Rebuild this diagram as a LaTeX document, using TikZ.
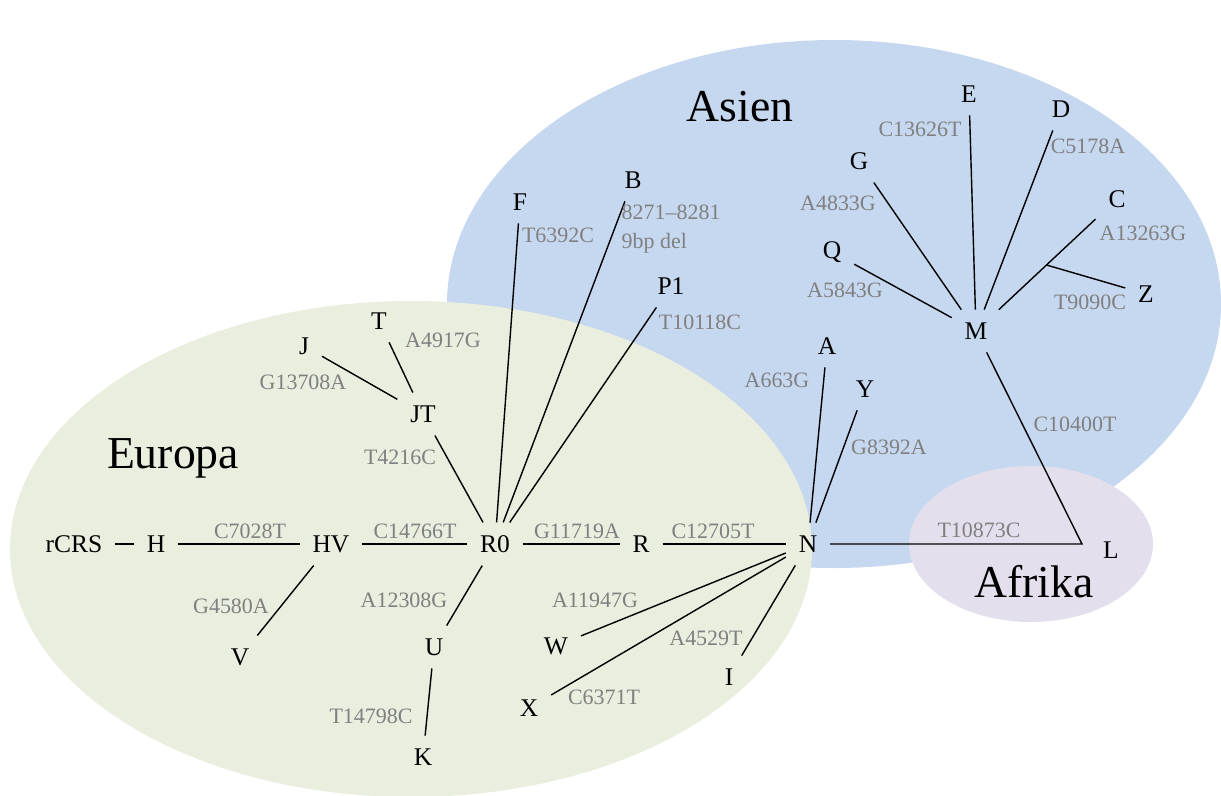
\documentclass[tikz,border=0pt]{standalone}
\usepackage{fontspec}
\setmainfont{Liberation Serif}
\usetikzlibrary{calc}
\definecolor{blueish}{RGB}{198, 216, 240}
\definecolor{greenish}{RGB}{233, 238, 222}
\definecolor{purplish}{RGB}{228, 223, 237}
\definecolor{greyish}{RGB}{128, 128, 128}
\tikzset{
  hg_n/.style = {inner sep=7pt, font=\fontsize{14.5}{17}\selectfont},% haplogroup node
  mut_l/.style = {inner sep=0pt, text=greyish, font=\fontsize{12.5}{16}\selectfont},% mutation label
  cont_t/.style = {anchor=base, font=\fontsize{26}{30}\selectfont},% continent title
}

\begin{document}
\begin{tikzpicture}[x=0.02cm, y=-0.02cm, line width=0.8pt]
\useasboundingbox (0,0) rectangle (1221,795);
% continents
\fill[blueish] (834,304) ellipse [x radius=387, y radius=264];
\fill[greenish] (411,549) ellipse [x radius=401, y radius=248];
\fill[purplish] (1031,544) ellipse [x radius=122, y radius=78];
\node[cont_t] (asien) at (740,121) {Asien};
\node[cont_t] (europa) at (173,468) {Europa};
\node[cont_t] (afrika) at (1034,597) {Afrika};
% haplogroups
\node[hg_n] (rcrs) at (74,544) {rCRS};
\node[hg_n] (h) at (156,544) {H};
\node[hg_n] (hv) at (331,544) {HV};
\node[hg_n] (r0) at (495,544) {R0};
\node[hg_n] (r) at (641,544) {R};
\node[hg_n] (n) at (808,544) {N};
\coordinate (lk) at (1082,544);
\node[hg_n] (l) at (1111,550) {L};
\node[hg_n] (m) at (976,331) {M};
\node[hg_n] (jt) at (423,414) {JT};
\node[hg_n] (j) at (304,346) {J};
\node[hg_n] (t) at (379,321) {T};
\node[hg_n] (f) at (520,202) {F};
\node[hg_n] (b) at (633,180) {B};
\node[hg_n] (p1) at (671,286) {P1};
\node[hg_n] (a) at (827,346) {A};
\node[hg_n] (y) at (865,389) {Y};
\node[hg_n] (q) at (832,252) {Q};
\node[hg_n] (g) at (859,161) {G};
\node[hg_n] (e) at (969,94) {E};
\node[hg_n] (d) at (1061,109) {D};
\node[hg_n] (c) at (1117,199) {C};
\node[hg_n] (z) at (1146,294) {Z};
\node[hg_n] (v) at (240,657) {V};
\node[hg_n] (u) at (434,647) {U};
\node[hg_n] (k) at (423,757) {K};
\node[hg_n] (w) at (556,646) {W};
\node[hg_n] (x) at (529,708) {X};
\node[hg_n] (i) at (729,677) {I};
\coordinate (zk) at ($(m)!0.5!(c)$);
% branches
\draw (rcrs) -- (h);
\draw (h) -- (hv);
\draw (hv) -- (r0);
\draw (r0) -- (r);
\draw (r) -- (n);
\draw (n) -- (lk) -- (m);
\draw (hv) -- (v);
\draw (r0) -- (u);
\draw (u) -- (k);
\draw (r0) -- (jt);
\draw (jt) -- (j);
\draw (jt) -- (t);
\draw (r0) -- (f);
\draw (r0) -- (b);
\draw (r0) -- (p1);
\draw (n) -- (a);
\draw (n) -- (y);
\draw (n) -- (w);
\draw (n) -- (x);
\draw (n) -- (i);
\draw (m) -- (q);
\draw (m) -- (g);
\draw (m) -- (e);
\draw (m) -- (d);
\draw (m) -- (c);
\draw (zk) -- (z);
% mutations
\node[mut_l] (m7028) at (250,531) {C7028T};
\node[mut_l] (m14766) at (415,531) {C14766T};
\node[mut_l] (m11719) at (577,531) {G11719A};
\node[mut_l] (m12705) at (713,531) {C12705T};
\node[mut_l] (m10873) at (979,530) {T10873C};
\node[mut_l] (m10400) at (1075,424) {C10400T};
\node[mut_l] (m8392) at (889,447) {G8392A};
\node[mut_l] (m663) at (777,380) {A663G};
\node[mut_l] (m10118) at (700,322) {T10118C};
\node[mut_l, anchor=west, align=left] (m8271) at (621,229) {8271--8281\\9bp del};
\node[mut_l] (m6392) at (558,235) {T6392C};
\node[mut_l] (m4917) at (443,340) {A4917G};
\node[mut_l] (m13708) at (303,382) {G13708A};
\node[mut_l] (m4216) at (400,457) {T4216C};
\node[mut_l] (m4580) at (231,606) {G4580A};
\node[mut_l] (m12308) at (404,600) {A12308G};
\node[mut_l] (m14798) at (371,716) {T14798C};
\node[mut_l] (m11947) at (595,600) {A11947G};
\node[mut_l] (m6371) at (604,697) {C6371T};
\node[mut_l] (m4529) at (706,638) {A4529T};
\node[mut_l] (m13626) at (920,129) {C13626T};
\node[mut_l] (m5178) at (1088,146) {C5178A};
\node[mut_l] (m4833) at (838,203) {A4833G};
\node[mut_l] (m13263) at (1143,233) {A13263G};
\node[mut_l] (m5843) at (845,290) {A5843G};
\node[mut_l] (m9090) at (1090,302) {T9090C};
\end{tikzpicture}
\end{document}
